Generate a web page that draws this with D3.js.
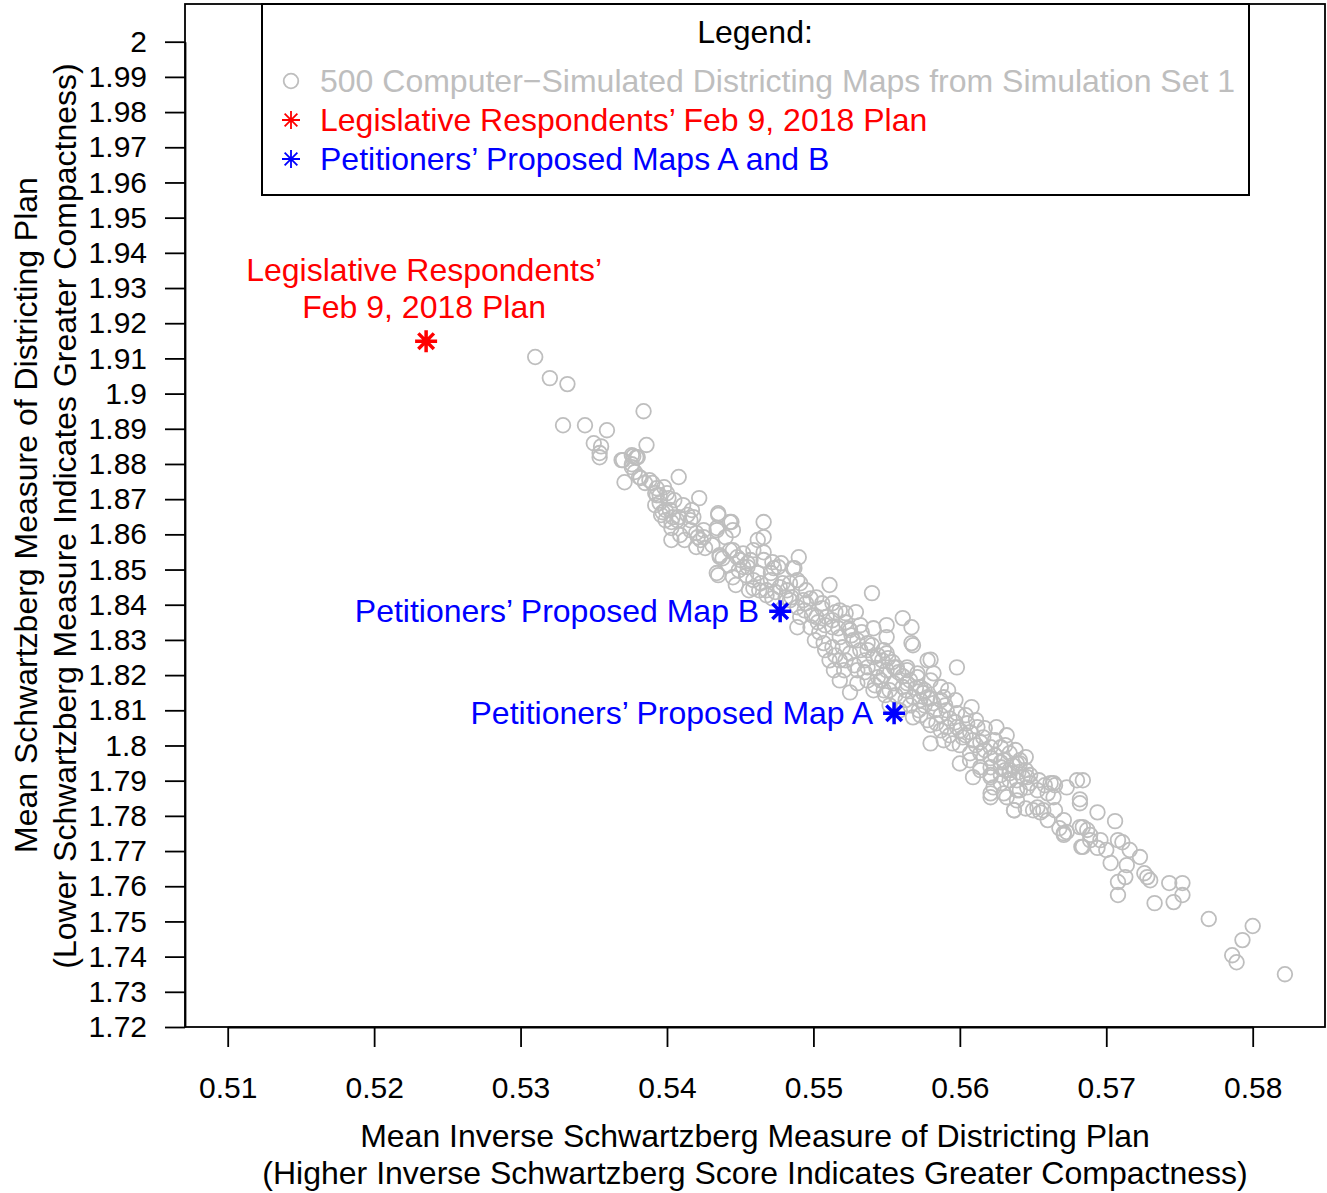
<!DOCTYPE html>
<html><head><meta charset="utf-8">
<script src="https://cdn.jsdelivr.net/npm/d3@7"></script>
<style>
body{margin:0;background:#fff;}
svg text{font-family:"Liberation Sans",Arial,Helvetica,sans-serif;}
</style></head>
<body><svg id="c" width="1327" height="1193"></svg>
<script>
// ---- data ----
const xTicks = [0.51,0.52,0.53,0.54,0.55,0.56,0.57,0.58];
const yTicks = [1.72,1.73,1.74,1.75,1.76,1.77,1.78,1.79,1.8,1.81,1.82,1.83,1.84,1.85,1.86,1.87,1.88,1.89,1.9,1.91,1.92,1.93,1.94,1.95,1.96,1.97,1.98,1.99,2];
const simX = [
0.5310,0.5320,0.5332,0.5329,0.5344,0.5359,0.5384,0.5350,0.5355,0.5354,0.5386,0.5369,0.5377,0.5379,0.5376,0.5378,0.5382,0.5371,0.5408,
0.5390,0.5393,0.5398,0.5400,0.5393,0.5395,0.5397,0.5402,0.5403,0.5404,0.5408,0.5422,0.5417,0.5418,0.5416,0.5420,0.5423,0.5425,0.5420,0.5435,0.5443,0.5445,0.5434,0.5436,0.5445,0.5450,0.5455,0.5434,
0.5354,0.5370,0.5376,0.5380,0.5376,0.5381,0.5392,0.5399,0.5396,0.5403,0.5407,0.5416,0.5421,0.5425,0.5435,0.5444,0.5434,0.5440,0.5436,0.5443,0.5448,0.5452,0.5435,0.5445,0.5452,0.5457,0.5462,0.5466,0.5462,0.5466,0.5466,0.5472,0.5473,0.5478,0.5464,0.5471,0.5479,0.5486,0.5490,0.5489,0.5474,0.5482,
0.5487,0.5511,0.5540,0.5459,0.5466,0.5455,0.5471,0.5476,0.5459,0.5468,0.5477,0.5484,0.5491,0.5495,0.5485,0.5495,0.5502,0.5506,0.5513,0.5518,0.5522,0.5529,0.5509,0.5502,0.5491,0.5489,0.5498,0.5504,0.5513,0.5518,0.5525,0.5527,0.5520,0.5513,0.5507,0.5511,0.5518,0.5525,0.5532,0.5537,0.5541,0.5550,0.5561,0.5567,0.5567,0.5550,0.5548,0.5541,0.5537,0.5530,0.5521,0.5514,0.5530,0.5537,0.5544,0.5550,0.5557,0.5564,0.5571,0.5578,0.5582,0.5541,0.5548,0.5555,0.5564,0.5573,0.5578,0.5525,0.5518,
0.5568,0.5580,0.5598,0.5608,0.5550,0.5555,0.5564,0.5571,0.5580,0.5587,0.5546,0.5552,0.5561,0.5568,0.5575,0.5582,0.5589,0.5591,0.5598,0.5568,0.5578,0.5584,0.5591,0.5598,0.5605,0.5612,0.5580,0.5589,0.5595,0.5602,0.5609,0.5616,0.5625,0.5632,0.5600,0.5607,0.5614,0.5621,0.5628,0.5634,0.5641,0.5614,0.5621,0.5628,0.5634,0.5609,0.5621,0.5628,0.5634,0.5643,0.5648,0.5653,0.5639,0.5630,0.5660,0.5664,0.5673,0.5680,0.5621,
0.5639,0.5646,0.5662,0.5684,0.5682,0.5664,0.5657,0.5671,0.5684,0.5689,0.5684,0.5671,0.5660,0.5653,0.5639,0.5637,0.5621,0.5623,
0.5665,0.5682,0.5694,0.5706,0.5665,0.5655,0.5650,0.5645,0.5637,0.5632,0.5641,0.5646,0.5639,0.5634,0.5630,0.5641,0.5668,0.5673,0.5671,0.5682,0.5687,0.5689,0.5696,0.5683,0.5694,0.5700,0.5708,0.5711,0.5716,0.5723,0.5703,0.5714,0.5713,0.5708,0.5708,0.5726,0.5728,0.5730,0.5743,0.5752,0.5752,0.5746,0.5733,0.5770,0.5800,0.5793,0.5786,0.5789,0.5822,
0.5494,0.5499,0.5503,0.5508,0.5513,0.5517,0.5522,0.5526,0.5530,0.5533,0.5537,0.5540,0.5544,0.5547,0.5551,0.5554,0.5558,0.5561,0.5563,0.5566,0.5570,0.5573,0.5576,0.5580,0.5583,0.5587,0.5590,0.5593,0.5597,0.5600,0.5604,0.5607,0.5611,0.5614,0.5617,0.5621,0.5624,0.5628,0.5631,0.5636,0.5640,0.5645,0.5648,0.5654,0.5658,
0.5501,0.5508,0.5515,0.5522,0.5528,0.5535,0.5542,0.5549,0.5552,0.5559,0.5566,0.5573,0.5580,0.5587,0.5593,0.5600,0.5607,0.5614,0.5621,0.5628,
0.5484,0.5489,0.5493,0.5498,0.5506,0.5515,0.5524,0.5532,0.5535,0.5543,0.5548,0.5556,0.5563,0.5572,0.5576,0.5587,0.5592,0.5597,0.5604,0.5611,0.5617,0.5624,0.5631,0.5638,0.5645,
0.5426,0.5431,0.5438,0.5442,0.5449,0.5454,0.5459,0.5463,0.5468,0.5472,0.5481,0.5456,0.5447,
0.5395,0.5401,0.5405,0.5411,0.5414,0.5388,0.5385,0.5392,0.5399,0.5409,0.5412,0.5403
];
const simY = [
1.9104,1.9044,1.9027,1.8910,1.8910,1.8896,1.8950,1.8859,1.8850,1.8819,1.8854,1.8811,1.8822,1.8819,1.8799,1.8777,1.8760,1.8748,1.8763,
1.8746,1.8731,1.8734,1.8717,1.8711,1.8689,1.8663,1.8669,1.8635,1.8649,1.8649,1.8703,1.8669,1.8649,1.8612,1.8604,1.8584,1.8612,1.8564,1.8660,1.8635,1.8612,1.8612,1.8536,1.8555,1.8527,1.8518,1.8490,
1.8831,1.8811,1.8825,1.8819,1.8791,1.8763,1.8717,1.8669,1.8655,1.8618,1.8640,1.8640,1.8592,1.8592,1.8655,1.8635,1.8618,1.8592,1.8541,1.8555,1.8535,1.8546,1.8484,1.8478,1.8507,1.8527,1.8490,1.8635,1.8584,1.8592,1.8549,1.8521,1.8504,1.8518,1.8461,1.8470,1.8461,1.8504,1.8535,1.8470,1.8436,1.8441,
1.8504,1.8456,1.8433,1.8555,1.8527,1.8507,1.8490,1.8507,1.8447,1.8441,1.8450,1.8461,1.8461,1.8441,1.8421,1.8404,1.8421,1.8404,1.8404,1.8384,1.8376,1.8379,1.8365,1.8365,1.8365,1.8336,1.8336,1.8322,1.8336,1.8308,1.8328,1.8299,1.8279,1.8279,1.8291,1.8242,1.8242,1.8262,1.8271,1.8291,1.8333,1.8342,1.8362,1.8336,1.8291,1.8308,1.8271,1.8251,1.8222,1.8214,1.8214,1.8214,1.8177,1.8185,1.8194,1.8214,1.8222,1.8222,1.8205,1.8242,1.8205,1.8157,1.8157,1.8177,1.8177,1.8166,1.8137,1.8151,1.8185,
1.8285,1.8244,1.8222,1.8109,1.8262,1.8222,1.8214,1.8194,1.8185,1.8166,1.8185,1.8157,1.8166,1.8137,1.8149,1.8120,1.8137,1.8100,1.8092,1.8080,1.8072,1.8063,1.8052,1.8052,1.8063,1.8052,1.8006,1.8015,1.8006,1.8023,1.8015,1.8023,1.8052,1.8029,1.7949,1.7978,1.7978,1.7995,1.7995,1.7978,1.7958,1.7938,1.7938,1.7938,1.7930,1.7910,1.7910,1.7893,1.7901,1.7910,1.7893,1.7873,1.7873,1.7864,1.7864,1.7893,1.7881,1.7901,1.7864,
1.7949,1.7910,1.7893,1.7901,1.7836,1.7853,1.7816,1.7788,1.7768,1.7746,1.7712,1.7751,1.7788,1.7824,1.7844,1.7816,1.7853,1.7881,
1.7887,1.7847,1.7810,1.7785,1.7816,1.7810,1.7816,1.7821,1.7816,1.7853,1.7873,1.7881,1.7901,1.7921,1.7958,1.7949,1.7765,1.7754,1.7746,1.7768,1.7760,1.7731,1.7731,1.7712,1.7709,1.7703,1.7731,1.7725,1.7703,1.7683,1.7666,1.7660,1.7626,1.7612,1.7575,1.7637,1.7626,1.7617,1.7609,1.7609,1.7575,1.7555,1.7552,1.7507,1.7487,1.7447,1.7404,1.7384,1.7350,
1.8384,1.8370,1.8350,1.8342,1.8356,1.8333,1.8350,1.8313,1.8299,1.8322,1.8271,1.8285,1.8256,1.8242,1.8248,1.8237,1.8208,1.8197,1.8157,1.8185,1.8163,1.8129,1.8114,1.8134,1.8100,1.8086,1.8114,1.8077,1.8066,1.8043,1.8029,1.8038,1.8001,1.8009,1.7987,1.7964,1.7972,1.7952,1.7930,1.7944,1.7924,1.7930,1.7916,1.7901,1.7887,
1.8299,1.8271,1.8256,1.8242,1.8228,1.8208,1.8171,1.8143,1.8114,1.8100,1.8114,1.8086,1.8058,1.8043,1.8029,1.8001,1.7958,1.7930,1.7916,1.7916,
1.8413,1.8393,1.8413,1.8418,1.8390,1.8379,1.8333,1.8342,1.8242,1.8220,1.8200,1.8143,1.8129,1.8100,1.8157,1.8129,1.8157,1.8129,1.8086,1.8072,1.8049,1.8015,1.8001,1.7987,1.7967,
1.8561,1.8569,1.8532,1.8512,1.8498,1.8484,1.8470,1.8441,1.8427,1.8418,1.8421,1.8441,1.8456,
1.8711,1.8703,1.8697,1.8683,1.8655,1.8754,1.8746,1.8683,1.8640,1.8598,1.8584,1.8584
];
const legislative = {x: 0.52355, y: 1.9149};
const petitionersX = [0.55551, 0.54773];
const petitionersY = [1.80918, 1.83817];
const petitionersNames = ["Petitioners’ Proposed Map A", "Petitioners’ Proposed Map B"];
const legendLabels = ["500 Computer−Simulated Districting Maps from Simulation Set 1",
  "Legislative Respondents’ Feb 9, 2018 Plan", "Petitioners’ Proposed Maps A and B"];

// ---- drawing ----
const svg = d3.select("#c");
const FS = 32;     // titles, legend, annotations
const TFS = 30;    // tick labels
const x = d3.scaleLinear().domain([0.51, 0.58]).range([227.7, 1252.7]);
const y = d3.scaleLinear().domain([1.72, 2]).range([1027, 41.7]);
const GRAY = "#bebebe";

// plot box
svg.append("rect").attr("x", 185).attr("y", 4).attr("width", 1140).attr("height", 1023)
  .attr("fill", "none").attr("stroke", "#000").attr("stroke-width", 1.8);

// axes
const gx = svg.append("g").attr("transform", "translate(0,1027)")
  .call(d3.axisBottom(x).tickValues(xTicks).tickSize(20).tickSizeOuter(0).tickPadding(30)
    .tickFormat(d => String(+d.toFixed(2))));
const gy = svg.append("g").attr("transform", "translate(185,0)")
  .call(d3.axisLeft(y).tickValues(yTicks).tickSize(20).tickSizeOuter(0).tickPadding(18)
    .tickFormat(d => String(+d.toFixed(2))));
[gx, gy].forEach(g => {
  g.select(".domain").attr("stroke", "#000").attr("stroke-width", 1.8);
  g.selectAll(".tick line").attr("stroke", "#000").attr("stroke-width", 1.8);
  g.selectAll(".tick text").attr("font-size", TFS).attr("fill", "#000")
    .style("font-family", '"Liberation Sans",Arial,sans-serif');
});

// axis titles
svg.append("text").attr("x", 755).attr("y", 1147).attr("text-anchor", "middle")
  .attr("font-size", FS).text("Mean Inverse Schwartzberg Measure of Districting Plan");
svg.append("text").attr("x", 755).attr("y", 1184).attr("text-anchor", "middle")
  .attr("font-size", FS).text("(Higher Inverse Schwartzberg Score Indicates Greater Compactness)");
svg.append("text").attr("transform", "translate(37,515) rotate(-90)").attr("text-anchor", "middle")
  .attr("font-size", FS).text("Mean Schwartzberg Measure of Districting Plan");
svg.append("text").attr("transform", "translate(76,516) rotate(-90)").attr("text-anchor", "middle")
  .attr("font-size", FS).text("(Lower Schwartzberg Measure Indicates Greater Compactness)");

// simulated points
const sims = simX.map((v, i) => ({x: v, y: simY[i]}));
svg.append("g").selectAll("circle").data(sims).join("circle")
  .attr("cx", d => x(d.x)).attr("cy", d => y(d.y)).attr("r", 7.3)
  .attr("fill", "none").attr("stroke", GRAY).attr("stroke-width", 1.8);

// asterisk helper
function star(g, cx, cy, r, color, sw) {
  const a = r * Math.SQRT1_2;
  const p = `M${cx - r},${cy}L${cx + r},${cy}M${cx},${cy - r}L${cx},${cy + r}` +
            `M${cx - a},${cy - a}L${cx + a},${cy + a}M${cx - a},${cy + a}L${cx + a},${cy - a}`;
  g.append("path").attr("d", p).attr("stroke", color).attr("stroke-width", sw).attr("fill", "none");
}

star(svg, x(legislative.x), y(legislative.y), 11, "#ff0000", 3.5);
petitionersX.forEach((v, i) => star(svg, x(v), y(petitionersY[i]), 11, "#0000ff", 3.5));

// annotations
svg.append("text").attr("x", x(legislative.x) - 2).attr("y", y(legislative.y) - 60).attr("text-anchor", "middle")
  .attr("font-size", FS).attr("fill", "#ff0000").text("Legislative Respondents’");
svg.append("text").attr("x", x(legislative.x) - 2).attr("y", y(legislative.y) - 23).attr("text-anchor", "middle")
  .attr("font-size", FS).attr("fill", "#ff0000").text("Feb 9, 2018 Plan");
petitionersX.forEach((v, i) => {
  svg.append("text").attr("x", x(v) - 21).attr("y", y(petitionersY[i]) + 11).attr("text-anchor", "end")
    .attr("font-size", FS).attr("fill", "#0000ff").text(petitionersNames[i]);
});

// legend
svg.append("rect").attr("x", 262).attr("y", 4).attr("width", 987).attr("height", 191)
  .attr("fill", "#fff").attr("stroke", "#000").attr("stroke-width", 2);
svg.append("text").attr("x", 755).attr("y", 43).attr("text-anchor", "middle")
  .attr("font-size", FS).attr("fill", "#000").text("Legend:");
const legY = [81, 120, 159];
const legCol = [GRAY, "#ff0000", "#0000ff"];
svg.append("circle").attr("cx", 291).attr("cy", legY[0]).attr("r", 7.3)
  .attr("fill", "none").attr("stroke", GRAY).attr("stroke-width", 1.8);
star(svg, 291, legY[1], 9, "#ff0000", 1.8);
star(svg, 291, legY[2], 9, "#0000ff", 1.8);
legendLabels.forEach((t, i) => {
  svg.append("text").attr("x", 320).attr("y", legY[i] + 11).attr("font-size", FS)
    .attr("fill", legCol[i]).text(t);
});
</script></body></html>
